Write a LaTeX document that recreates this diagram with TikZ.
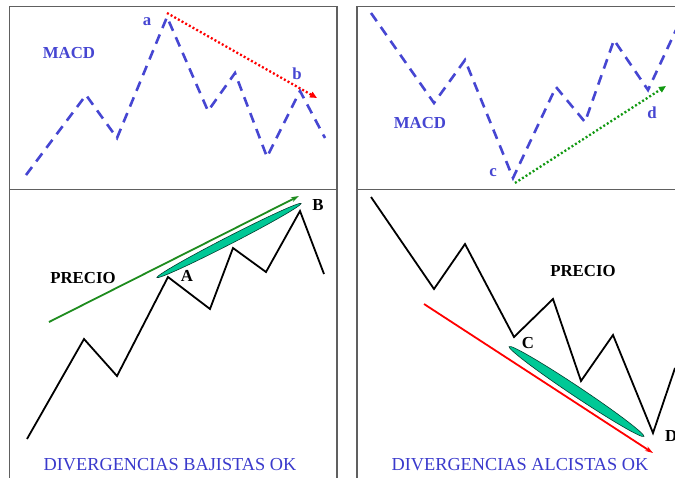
\documentclass[tikz,border=0pt]{standalone}
\usepackage{fontspec}
\setmainfont{Liberation Serif}
\usetikzlibrary{arrows.meta}
\definecolor{frame}{HTML}{606060}
\definecolor{macdblue}{HTML}{4646D2}
\definecolor{txtblue}{HTML}{3A3ACC}
\definecolor{dgreen}{HTML}{1E8C1E}
\definecolor{dotgreen}{HTML}{119911}
\definecolor{teal}{HTML}{00C896}
\tikzset{
  panel/.style={draw=frame, line width=1.8pt},
  macd/.style={draw=macdblue, line width=2.6pt, dash pattern=on 10pt off 7pt, line join=miter},
  price/.style={draw=black, line width=1.8pt, line join=miter},
  lbl/.style={font=\fontsize{16.8}{19}\selectfont\bfseries, inner sep=0pt},
  lblblue/.style={lbl, text=macdblue},
  caption/.style={font=\fontsize{18.3}{20}\selectfont, inner sep=0pt, text=txtblue},
  dotred/.style={draw=red, line width=2.3pt, dash pattern=on 2pt off 2.2pt, -{Triangle[length=7pt,width=6pt,fill=red]}},
  dotgrn/.style={draw=dotgreen, line width=2.3pt, dash pattern=on 2pt off 2.2pt, -{Triangle[length=7pt,width=6pt,fill=dotgreen]}},
  trend/.style={line width=1.8pt, -{Stealth[length=8pt,width=5pt]}},
  lens/.style={fill=teal, draw=black!70!teal, line width=0.6pt},
}
\begin{document}
\begin{tikzpicture}[x=1pt,y=-1pt]
\useasboundingbox (0,0) rectangle (675,477);
\clip (0,0) rectangle (675,477);
\fill[white] (0,0) rectangle (675,477);
% panels
\draw[panel] (9.5,6.5) rectangle (337.3,490);
\draw[panel] (9.5,189.5) -- (337.3,189.5);
\draw[panel] (356.7,6.5) rectangle (690,490);
\draw[panel] (356.7,189.5) -- (690,189.5);

% ---------- top left MACD ----------
\coordinate (m1) at (26,175);
\coordinate (m2) at (86,95);
\coordinate (m3) at (117,138);
\coordinate (ma) at (167,17);
\coordinate (m5) at (208,111);
\coordinate (m6) at (235,73);
\coordinate (m7) at (267,157);
\coordinate (mb) at (300,91);
\coordinate (m9) at (325,138);
\draw[macd] (m1) -- (m2) -- (m3) -- (ma) -- (m5) -- (m6) -- (m7) -- (mb) -- (m9);
\coordinate (ra1) at (167,13);
\coordinate (ra2) at (317,98);
\draw[dotred] (ra1) -- (ra2);
\node[lblblue] (la) at (147,22) {a};
\node[lblblue] (lb) at (297,74) {b};
\node[lblblue] (lmacd1) at (69,53) {MACD};

% ---------- top right MACD ----------
\coordinate (n1) at (371,13);
\coordinate (n2) at (434,103);
\coordinate (n3) at (465,60);
\coordinate (nc) at (513,178);
\coordinate (n5) at (556,87);
\coordinate (n6) at (585,122);
\coordinate (n7) at (614,40);
\coordinate (nd) at (648,90);
\coordinate (n9) at (676,30);
\draw[macd] (n1) -- (n2) -- (n3) -- (nc) -- (n5) -- (n6) -- (n7) -- (nd) -- (n9);
\coordinate (ga1) at (515,183);
\coordinate (ga2) at (666,86);
\draw[dotgrn] (ga1) -- (ga2);
\node[lblblue] (lc) at (493,173) {c};
\node[lblblue] (ld) at (652,113) {d};
\node[lblblue] (lmacd2) at (420,123) {MACD};

% ---------- bottom left price ----------
\coordinate (p1) at (27,439);
\coordinate (p2) at (84,339);
\coordinate (p3) at (117,376);
\coordinate (pA) at (168,277);
\coordinate (p5) at (210,309);
\coordinate (p6) at (233,248);
\coordinate (p7) at (266,272);
\coordinate (pB) at (300,211);
\coordinate (p9) at (324,274);
\draw[price] (p1) -- (p2) -- (p3) -- (pA) -- (p5) -- (p6) -- (p7) -- (pB) -- (p9);
\coordinate (gt1) at (49,322);
\coordinate (gt2) at (299,196);
\draw[trend, draw=dgreen, fill=dgreen] (gt1) -- (gt2);
\draw[lens, shift={(229,240.5)}, rotate=27.2] (0,0) ellipse [x radius=81pt, y radius=3.8pt];
\node[lbl] (lA) at (187,276) {A};
\node[lbl] (lB) at (318,205) {B};
\node[lbl] (lprecio1) at (83,278) {PRECIO};
\node[caption] (cap1) at (170,465) {DIVERGENCIAS BAJISTAS OK};

% ---------- bottom right price ----------
\coordinate (q1) at (371,197);
\coordinate (q2) at (434,289);
\coordinate (q3) at (465,244);
\coordinate (qC) at (514,337);
\coordinate (q5) at (553,299);
\coordinate (q6) at (581,381);
\coordinate (q7) at (613,335);
\coordinate (qD) at (653,433);
\coordinate (q9) at (675,368);
\draw[price] (q1) -- (q2) -- (q3) -- (qC) -- (q5) -- (q6) -- (q7) -- (qD) -- (q9);
\coordinate (rt1) at (424,304);
\coordinate (rt2) at (653,453);
\draw[trend, draw=red, fill=red] (rt1) -- (rt2);
\draw[lens, shift={(576.5,391.5)}, rotate=-33.7] (0,0) ellipse [x radius=81pt, y radius=5pt];
\node[lbl] (lC) at (528,343) {C};
\node[lbl, anchor=west] (lD) at (665,436) {D};
\node[lbl] (lprecio2) at (583,271) {PRECIO};
\node[caption] (cap2) at (520,465) {DIVERGENCIAS ALCISTAS OK};
\end{tikzpicture}
\end{document}
